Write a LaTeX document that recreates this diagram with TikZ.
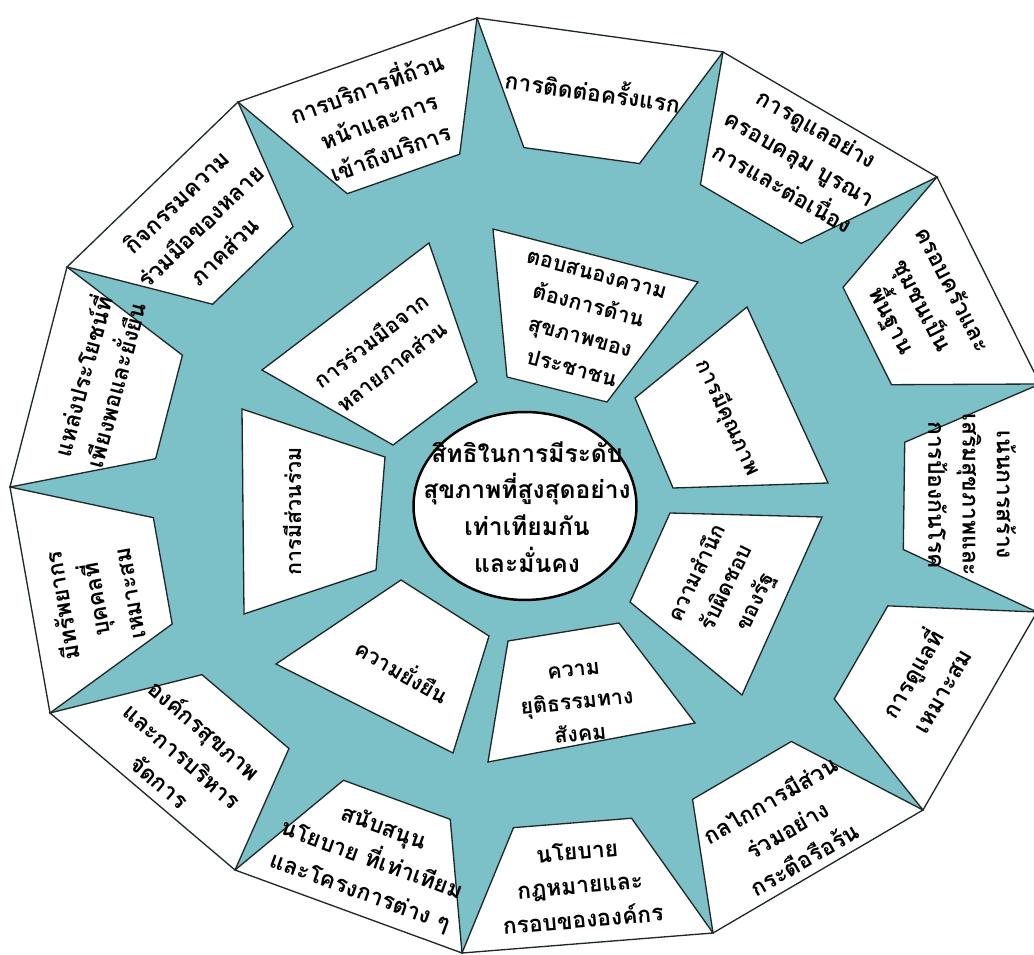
\documentclass[tikz,border=0pt]{standalone}
\usepackage{fontspec}
\newfontfamily\thaifont[Script=Thai]{Loma}
\usetikzlibrary{calc}
\definecolor{band}{RGB}{123,193,199}
\definecolor{edge}{RGB}{30,40,40}
\tikzset{
  petal/.style={fill=white, draw=edge, line width=0.75pt, line join=miter},
  core/.style={fill=white, draw=black, line width=1.4pt},
  txt/.style={font=\thaifont\bfseries\fontsize{13}{19.5}\selectfont, align=center, inner sep=0pt},
  smalltxt/.style={font=\thaifont\bfseries\fontsize{12.2}{18.5}\selectfont, align=center, inner sep=0pt},
  bigtxt/.style={font=\thaifont\bfseries\fontsize{14}{21}\selectfont, align=center, inner sep=0pt},
}
\begin{document}
\begin{tikzpicture}[x=0.02cm,y=-0.02cm]
\useasboundingbox (0,0) rectangle (1034,955);
\clip (0,0) rectangle (1034,955);

% centre of the outer ring and its thirteen corners
\coordinate (C) at (531,490);
\coordinate (V1) at (477,18);
\coordinate (V2) at (723,52);
\coordinate (V3) at (937,177);
\coordinate (V4) at (1040,384);
\coordinate (V5) at (1037,612);
\coordinate (V6) at (923,810);
\coordinate (V7) at (713,933);
\coordinate (V8) at (462,953);
\coordinate (V9) at (235,870);
\coordinate (V10) at (50,713);
\coordinate (V11) at (10,487);
\coordinate (V12) at (67,267);
\coordinate (V13) at (238,102);

% teal star: the whole ring is filled, the white panels go on top
\fill[band] (V1) -- (V2) -- (V3) -- (V4) -- (V5) -- (V6) -- (V7) -- (V8)
  -- (V9) -- (V10) -- (V11) -- (V12) -- (V13) -- cycle;

% outer panels: inner corners pulled toward the centre
\foreach \a/\b/\n in {13/1/1,1/2/2,2/3/3,3/4/4,4/5/5,5/6/6,6/7/7,7/8/8,8/9/9,9/10/10,10/11/11,11/12/12,12/13/13}{
  \coordinate (Qa\n) at ($(V\a)!0.18!(V\b)$);
  \coordinate (Qb\n) at ($(V\a)!0.82!(V\b)$);
  \coordinate (Ia\n) at ($(C)!0.735!(Qa\n)$);
  \coordinate (Ib\n) at ($(C)!0.735!(Qb\n)$);
  \filldraw[petal] (V\a) -- (V\b) -- (Ib\n) -- (Ia\n) -- cycle;
}

% inner panels
\filldraw[petal] (262,370) -- (429,243) -- (477,382) -- (393,445) -- cycle;
\filldraw[petal] (493,229) -- (698,282) -- (607,402) -- (507,377) -- cycle;
\filldraw[petal] (747,307) -- (828,483) -- (673,488) -- (635,398) -- cycle;
\filldraw[petal] (670,513) -- (822,517) -- (742,695) -- (630,602) -- cycle;
\filldraw[petal] (508,641) -- (619,623) -- (695,723) -- (488,762) -- cycle;
\filldraw[petal] (401,580) -- (489,636) -- (453,753) -- (276,664) -- cycle;
\filldraw[petal] (242,409) -- (385,457) -- (376,570) -- (244,614) -- cycle;

% central ellipse
\draw[core] (525,506) ellipse [x radius=2.23cm, y radius=1.88cm];
\node[bigtxt] (goal) at (527,507) {สิทธิในการมีระดับ\\สุขภาพที่สูงสุดอย่าง\\เท่าเทียมกัน\\และมั่นคง};

% outer labels
\node[txt, rotate=20]  (o1)  at (378,118) {การบริการที่ถ้วน\\หน้าและการ\\เข้าถึงบริการ};
\node[txt, rotate=-8]  (o2)  at (593,89)  {การติดต่อครั้งแรก};
\node[txt, rotate=-30] (o3)  at (800,158) {การดูแลอย่าง\\ครอบคลุม บูรณา\\การและต่อเนื่อง};
\node[txt, rotate=-63] (o4)  at (921,306) {ครอบครัวและ\\ชุมชนเป็น\\พื้นฐาน};
\node[txt, rotate=-90] (o5)  at (972,495) {เน้นการสร้าง\\เสริมสุขภาพและ\\การป้องกันโรค};
\node[txt, rotate=60]  (o6)  at (925,681) {การดูแลที่\\เหมาะสม};
\node[txt, rotate=30]  (o7)  at (787,829) {กลไกการมีส่วน\\ร่วมอย่าง\\กระตือรือร้น};
\node[txt, rotate=5]   (o8)  at (580,885) {นโยบาย\\กฎหมายและ\\กรอบขององค์กร};
\node[txt, rotate=-20] (o9)  at (372,860) {สนับสนุน\\นโยบาย ที่เท่าเทียม\\และโครงการต่าง ๆ};
\node[txt, rotate=-41] (o10) at (183,755) {องค์กรสุขภาพ\\และการบริหาร\\จัดการ};
\node[txt, rotate=100] (o11) at (95,600)  {มีทรัพยากร\\บุคคลที่\\เหมาะสม};
\node[txt, rotate=75]  (o12) at (97,380)  {แหล่งประโยชน์ที่\\เพียงพอและยั่งยืน};
\node[txt, rotate=44]  (o13) at (200,226) {กิจกรรมความ\\ร่วมมือของหลาย\\ภาคส่วน};

% inner labels
\node[smalltxt, rotate=38]  (i1) at (381,353) {การร่วมมือจาก\\หลายภาคส่วน};
\node[smalltxt, rotate=-15] (i2) at (584,322) {ตอบสนองความ\\ต้องการด้าน\\สุขภาพของ\\ประชาชน};
\node[smalltxt, rotate=-65] (i3) at (728,418) {การมีคุณภาพ};
\node[smalltxt, rotate=64]  (i4) at (727,588) {ความสำนึก\\รับผิดชอบ\\ของรัฐ};
\node[smalltxt, rotate=6]   (i5) at (577,703) {ความ\\ยุติธรรมทาง\\สังคม};
\node[smalltxt, rotate=-30] (i6) at (403,670) {ความยั่งยืน};
\node[smalltxt, rotate=90]  (i7) at (292,511) {การมีส่วนร่วม};
\end{tikzpicture}
\end{document}
